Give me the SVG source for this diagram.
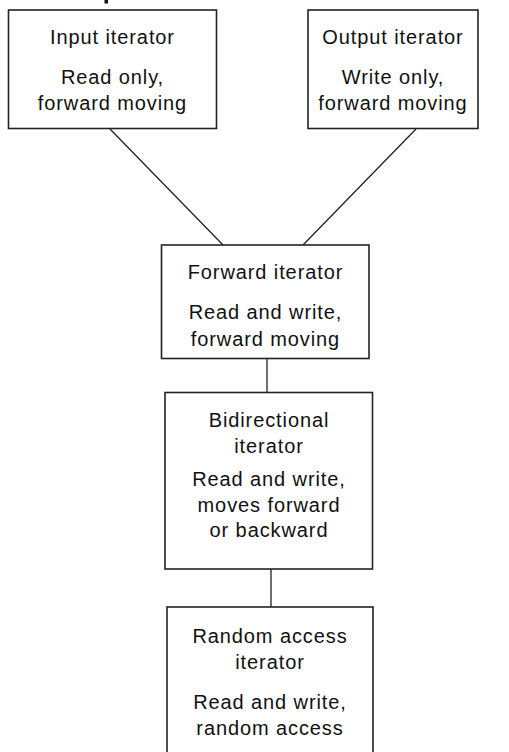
<svg xmlns="http://www.w3.org/2000/svg" width="509" height="752" viewBox="0 0 509 752">
<style>
.box{fill:#fff;stroke:#222;stroke-width:1.6}
.t{font-family:"Liberation Sans",Arial,sans-serif;font-size:20px;letter-spacing:0.9px;fill:#111;text-anchor:middle}
.c{stroke:#222;stroke-width:1.3;fill:none}
</style>
<rect x="0" y="0" width="509" height="752" fill="#fff"/>
<rect x="104.5" y="0" width="3.5" height="3.5" fill="#111"/>
<g id="connectors">
<line class="c" x1="110" y1="129" x2="223" y2="245"/>
<line class="c" x1="416" y1="129" x2="303" y2="245"/>
<line class="c" x1="267" y1="358.5" x2="267" y2="392.5" stroke-width="1.6"/>
<line class="c" x1="271" y1="569" x2="271" y2="607" stroke-width="1.6"/>
</g>
<g id="input">
<rect class="box" x="8.5" y="10" width="208" height="118.5"/>
<text class="t" x="112.5" y="44">Input iterator</text>
<text class="t" x="112.5" y="84">Read only,</text>
<text class="t" x="112.5" y="110">forward moving</text>
</g>
<g id="output">
<rect class="box" x="308" y="10" width="170" height="118.5"/>
<text class="t" x="393" y="44">Output iterator</text>
<text class="t" x="393" y="84">Write only,</text>
<text class="t" x="393" y="110">forward moving</text>
</g>
<g id="forward">
<rect class="box" x="161.5" y="245" width="207.5" height="113.5"/>
<text class="t" x="265.5" y="279">Forward iterator</text>
<text class="t" x="265.5" y="319">Read and write,</text>
<text class="t" x="265.5" y="346">forward moving</text>
</g>
<g id="bidirectional">
<rect class="box" x="165" y="392.5" width="207.5" height="176.5"/>
<text class="t" x="269" y="427">Bidirectional</text>
<text class="t" x="269" y="453">iterator</text>
<text class="t" x="269" y="486">Read and write,</text>
<text class="t" x="269" y="512">moves forward</text>
<text class="t" x="269" y="537">or backward</text>
</g>
<g id="random">
<rect class="box" x="167" y="607" width="206" height="160"/>
<text class="t" x="270" y="643">Random access</text>
<text class="t" x="270" y="669">iterator</text>
<text class="t" x="270" y="709">Read and write,</text>
<text class="t" x="270" y="735">random access</text>
</g>
</svg>
